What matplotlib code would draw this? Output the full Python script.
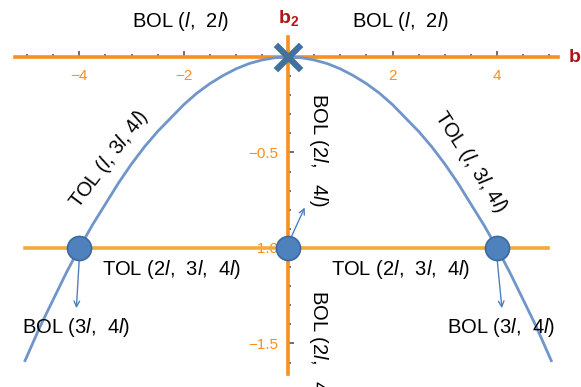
import numpy as np
import matplotlib
matplotlib.use("Agg")
import matplotlib.pyplot as plt
from matplotlib.ticker import FixedLocator

plt.rcParams['font.family'] = ['Liberation Sans', 'DejaVu Sans']
plt.rcParams['mathtext.fontset'] = 'custom'
plt.rcParams['mathtext.rm'] = 'Liberation Sans'
plt.rcParams['mathtext.it'] = 'Liberation Sans:italic'
plt.rcParams['mathtext.bf'] = 'Liberation Sans:bold'

# ---- data ----
curve_x = [-5.04, -4.75, -4.5, -4.25, -4.0, -3.75, -3.5, -3.25, -3.0, -2.75, -2.5, -2.25,
           -2.0, -1.75, -1.5, -1.25, -1.0, -0.75, -0.5, -0.25, 0.0,
           0.25, 0.5, 0.75, 1.0, 1.25, 1.5, 1.75, 2.0, 2.25, 2.5, 2.75,
           3.0, 3.25, 3.5, 3.75, 4.0, 4.25, 4.5, 4.75, 5.04]
curve_y = [-1.59, -1.41, -1.27, -1.13, -1.00, -0.88, -0.77, -0.66, -0.56, -0.47, -0.39, -0.32,
           -0.25, -0.19, -0.14, -0.098, -0.0625, -0.035, -0.016, -0.004, 0.0,
           -0.004, -0.016, -0.035, -0.0625, -0.098, -0.14, -0.19, -0.25, -0.32, -0.39, -0.47,
           -0.56, -0.66, -0.77, -0.88, -1.00, -1.13, -1.27, -1.41, -1.59]
point_x = [-4.0, 0.0, 4.0]
point_y = [-1.0, -1.0, -1.0]
peak_x = [0.0]
peak_y = [0.0]
level_y = -1.0
xtick_vals = [-4, -2, 2, 4]
xtick_labels = ['\u22124', '\u22122', '2', '4']
xminor_vals = [-5.0, -4.5, -3.5, -3.0, -2.5, -1.5, -1.0, -0.5, 0.5, 1.0, 1.5,
               2.5, 3.0, 3.5, 4.5, 5.0]
ytick_vals = [-0.5, -1.0, -1.5]
ytick_labels = ['\u22120.5', '\u22121.0', '\u22121.5']
yminor_vals = [-0.1, -0.2, -0.3, -0.4, -0.6, -0.7, -0.8, -0.9, -1.1, -1.2, -1.3, -1.4,
               -1.6]

ORANGE = '#F7901E'
GOLD = '#F2AC3A'
TICKC = '#F7901E'
BLUE_LINE = '#6F95CB'
BLUE_PT = '#4F81BD'
BLUE_EDGE = '#3D6A9E'
RED = '#B01515'

fig = plt.figure(figsize=(5.81, 3.87), dpi=100)
ax = fig.add_axes([0, 0, 1, 1])
ax.set_xlim(-5.52, 5.61)
ax.set_ylim(-1.728, 0.298)
ax.patch.set_alpha(0)

for s in ['top', 'right']:
    ax.spines[s].set_visible(False)
ax.spines['bottom'].set_position(('data', 0))
ax.spines['left'].set_position(('data', 0))
ax.spines['bottom'].set_bounds(-5.23, 5.17)
ax.spines['left'].set_bounds(-1.66, 0.105)
for s in ['bottom', 'left']:
    ax.spines[s].set_color(ORANGE)
    ax.spines[s].set_linewidth(2.6)

ax.xaxis.set_major_locator(FixedLocator(xtick_vals))
ax.set_xticklabels(xtick_labels)
ax.xaxis.set_minor_locator(FixedLocator(xminor_vals))
ax.yaxis.set_major_locator(FixedLocator(ytick_vals))
ax.set_yticklabels(ytick_labels)
ax.yaxis.set_minor_locator(FixedLocator(yminor_vals))
ax.tick_params(axis='both', which='major', direction='in', length=4.5, width=1.2,
               color='#555555', labelcolor=TICKC, labelsize=11)
ax.tick_params(axis='x', which='major', pad=9)
ax.tick_params(axis='y', which='major', pad=7)
ax.tick_params(axis='both', which='minor', direction='in', length=2.5, width=1.2,
               color='#555555')

# horizontal level line
ax.plot([-5.04, 4.98], [level_y, level_y], color=GOLD, lw=2.6, zorder=2)

# parabola
ax.plot(curve_x, curve_y, color=BLUE_LINE, lw=2.0, zorder=3, clip_on=False,
        solid_joinstyle='round')

# points
ax.scatter(point_x, point_y, s=300, color=BLUE_PT, edgecolor=BLUE_EDGE,
           linewidth=1.2, zorder=5)
ax.scatter(peak_x, peak_y, marker='x', s=330, color='#41719C', linewidth=4.5, zorder=6)

# arrows
akw = dict(arrowstyle='->', color=BLUE_PT, lw=1.0, mutation_scale=10)
ax.annotate('', xy=(-4.06, -1.33), xytext=(-4.0, -1.05), arrowprops=akw, zorder=4)
ax.annotate('', xy=(4.10, -1.33), xytext=(4.0, -1.05), arrowprops=akw, zorder=4)
ax.annotate('', xy=(0.34, -0.775), xytext=(0.03, -0.96), arrowprops=akw, zorder=4)

fs = 14.5
ax.text(-2.07, 0.183, r'BOL ($\mathit{l}$,  $\mathit{2l}$)', ha='center', va='center', fontsize=fs)
ax.text(2.15, 0.183, r'BOL ($\mathit{l}$,  $\mathit{2l}$)', ha='center', va='center', fontsize=fs)
ax.text(0.0, 0.205, r'$\mathbf{b_2}$', ha='center', va='center', fontsize=14, color=RED)
ax.text(5.36, 0.0, r'$\mathbf{b_1}$', ha='left', va='center', fontsize=14, color=RED, clip_on=False)

ax.text(-3.43, -0.534, r'TOL ($\mathit{l}$, $\mathit{3l}$, $\mathit{4l}$)', ha='center', va='center',
        fontsize=fs, rotation=53)
ax.text(3.50, -0.550, r'TOL ($\mathit{l}$, $\mathit{3l}$, $\mathit{4l}$)', ha='center', va='center',
        fontsize=fs, rotation=-57)
ax.text(0.575, -0.487, r'BOL ($\mathit{2l}$,   $\mathit{4l}$)', ha='center', va='center',
        fontsize=fs, rotation=-90)
ax.text(0.575, -1.518, r'BOL ($\mathit{2l}$,   $\mathit{4l}$)', ha='center', va='center',
        fontsize=fs, rotation=-90)
ax.text(-2.24, -1.115, r'TOL ($\mathit{2l}$,  $\mathit{3l}$,  $\mathit{4l}$)', ha='center', va='center', fontsize=fs)
ax.text(2.15, -1.115, r'TOL ($\mathit{2l}$,  $\mathit{3l}$,  $\mathit{4l}$)', ha='center', va='center', fontsize=fs)
ax.text(-4.06, -1.419, r'BOL ($\mathit{3l}$,  $\mathit{4l}$)', ha='center', va='center', fontsize=fs)
ax.text(4.08, -1.419, r'BOL ($\mathit{3l}$,  $\mathit{4l}$)', ha='center', va='center', fontsize=fs)

fig.savefig('out.png', dpi=100)
